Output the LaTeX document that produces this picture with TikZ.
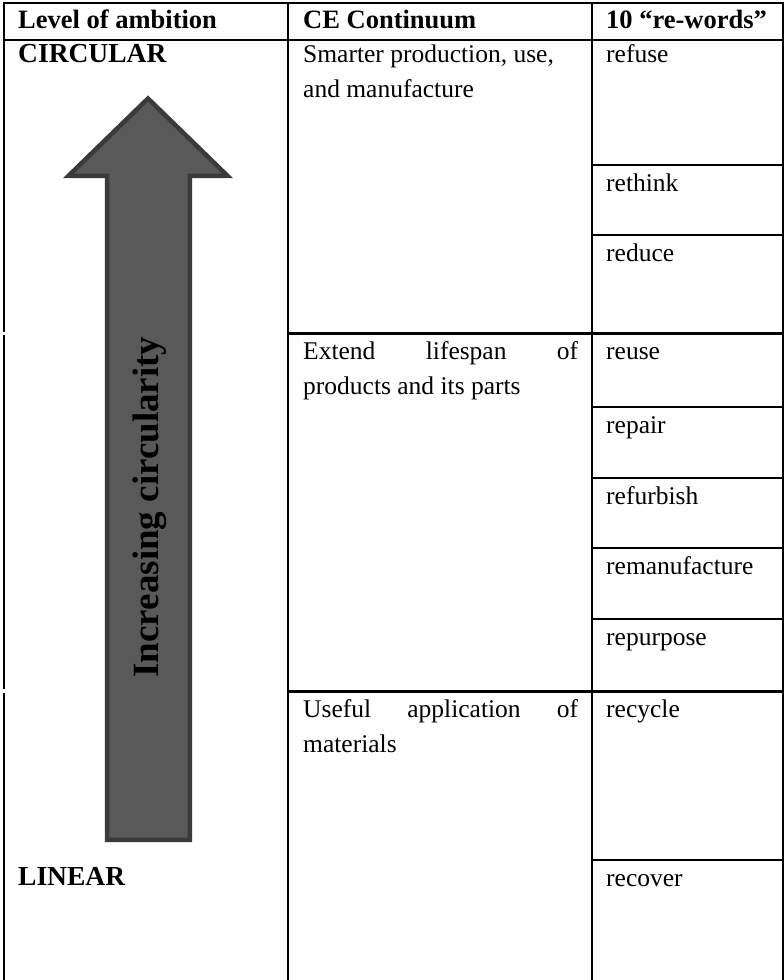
\documentclass[tikz,border=0pt]{standalone}
\usepackage{fontspec}
\setmainfont{Liberation Serif}
\definecolor{arrowfill}{HTML}{595959}
\definecolor{arrowedge}{HTML}{3A3A3A}
\begin{document}
\begin{tikzpicture}[x=1pt,y=-1pt,
  gridline/.style={line width=2pt,black},
  groupline/.style={line width=3pt,black},
  txt/.style={anchor=base west,inner sep=0pt,font=\fontsize{25.5}{30}\selectfont},
  hdr/.style={anchor=base west,inner sep=0pt,font=\fontsize{26.5}{30}\selectfont\bfseries},
  lvl/.style={anchor=base west,inner sep=0pt,font=\fontsize{27.5}{30}\selectfont\bfseries},
  bigarrow/.style={line width=4.5pt,draw=arrowedge,fill=arrowfill,line join=miter}
]
\useasboundingbox (0,0) rectangle (784,980);

% table grid
\draw[gridline] (3,3) -- (784,3);
\draw[gridline] (3,40) -- (784,40);
\draw[gridline] (4,2) -- (4,332);
\draw[gridline] (4,335) -- (4,689);
\draw[gridline] (4,693) -- (4,980);
\draw[gridline] (288,2) -- (288,980);
\draw[gridline] (592,2) -- (592,980);
\draw[gridline] (783,2) -- (783,980);
\draw[groupline] (288,333) -- (784,333);
\draw[groupline] (288,691) -- (784,691);
\foreach \yy in {165,235,407,478,548,619,860}
  \draw[gridline] (592,\yy) -- (784,\yy);

% arrow
\draw[bigarrow] (148,98.5) -- (227.5,175.8) -- (189.8,175.8) -- (189.8,839.8)
  -- (107.2,839.8) -- (107.2,175.8) -- (68.5,175.8) -- cycle;
\node[rotate=90,inner sep=0pt,font=\fontsize{37}{40}\selectfont\bfseries] (ic) at (150,507) {Increasing circularity};

% header
\node[hdr] (h1) at (18,28) {Level of ambition};
\node[hdr] (h2) at (303,28) {CE Continuum};
\node[hdr] (h3) at (606,28) {10 “re-words”};

% level column
\node[lvl] (circ) at (18,62) {CIRCULAR};
\node[lvl] (lin) at (18,885) {LINEAR};

% continuum column
\node[txt] (c1a) at (303,62) {Smarter production, use,};
\node[txt] (c1b) at (303,97) {and manufacture};
\node[txt] (c2a) at (303,359) {\makebox[275pt][s]{Extend lifespan of}};
\node[txt] (c2b) at (303,394) {products and its parts};
\node[txt] (c3a) at (303,717) {\makebox[275pt][s]{Useful application of}};
\node[txt] (c3b) at (303,752) {materials};

% re-words column
\node[txt] (w1) at (606,62) {refuse};
\node[txt] (w2) at (606,191) {rethink};
\node[txt] (w3) at (606,261) {reduce};
\node[txt] (w4) at (606,359) {reuse};
\node[txt] (w5) at (606,433) {repair};
\node[txt] (w6) at (606,504) {refurbish};
\node[txt] (w7) at (606,574) {remanufacture};
\node[txt] (w8) at (606,645) {repurpose};
\node[txt] (w9) at (606,717) {recycle};
\node[txt] (w10) at (606,886) {recover};
\end{tikzpicture}
\end{document}
